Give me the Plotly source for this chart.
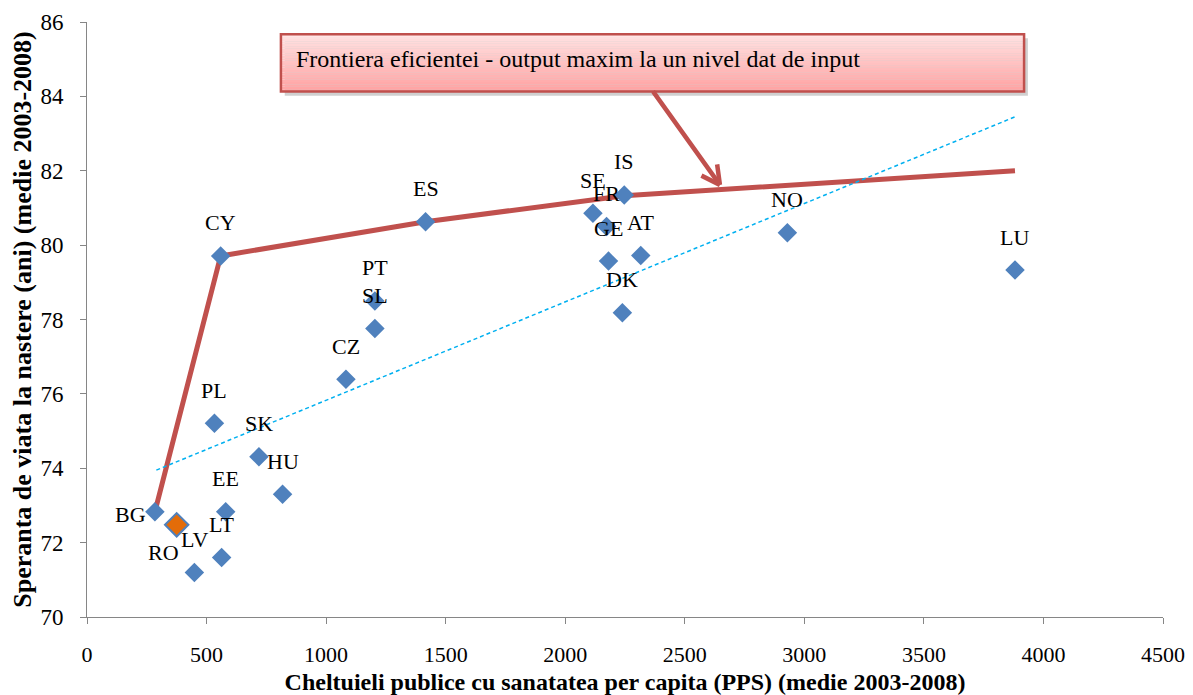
import plotly.graph_objects as go

# ---------------- data ----------------
countries = ["BG", "RO", "LV", "LT", "EE", "PL", "SK", "HU", "CZ", "SL", "PT",
             "CY", "ES", "SE", "FR", "GE", "DK", "IS", "AT", "NO", "LU"]
spending = [284, 375, 449, 563, 580, 533, 719, 818, 1083, 1204, 1204,
            559, 1416, 2116, 2173, 2181, 2239, 2247, 2316, 2929, 3881]
life_exp = [72.83, 72.48, 71.20, 71.60, 72.83, 75.21, 74.31, 73.30, 76.39, 77.76, 78.50,
            79.71, 80.63, 80.86, 80.50, 79.57, 78.18, 81.35, 79.72, 80.33, 79.33]
highlight = "RO"

frontier_x = [284, 559, 1416, 2247, 3881]
frontier_y = [72.83, 79.71, 80.63, 81.33, 82.00]

trend_x = [290, 3881]
trend_y = [73.95, 83.45]

x_ticks = [0, 500, 1000, 1500, 2000, 2500, 3000, 3500, 4000, 4500]
y_ticks = [70, 72, 74, 76, 78, 80, 82, 84, 86]

callout_text = "Frontiera eficientei - output maxim la un nivel dat de input"
x_title = "Cheltuieli publice cu sanatatea per capita (PPS) (medie 2003-2008)"
y_title = "Speranta de viata la nastere (ani) (medie 2003-2008)"

# ---------------- style ----------------
FONT = "Liberation Serif"
BLUE = "#4F81BD"
RED = "#C0504D"
ORANGE = "#E36C09"
AXIS = "#868686"
label_offsets = {"BG": (-24, -3), "RO": (-13, -28)}  # pixel offsets (dx, dy up)
default_offset = (0, 33)

fig = go.Figure()

fig.add_trace(go.Scatter(x=frontier_x, y=frontier_y, mode="lines",
                         line=dict(color=RED, width=5), hoverinfo="skip"))
fig.add_trace(go.Scatter(x=trend_x, y=trend_y, mode="lines",
                         line=dict(color="#00B0F0", width=1.5, dash="4px,3px"),
                         hoverinfo="skip"))

bx = [x for c, x in zip(countries, spending) if c != highlight]
by = [y for c, y in zip(countries, life_exp) if c != highlight]
fig.add_trace(go.Scatter(x=bx, y=by, mode="markers",
                         marker=dict(symbol="diamond", size=15, color=BLUE,
                                     line=dict(width=0))))
hx = [x for c, x in zip(countries, spending) if c == highlight]
hy = [y for c, y in zip(countries, life_exp) if c == highlight]
fig.add_trace(go.Scatter(x=hx, y=hy, mode="markers",
                         marker=dict(symbol="diamond", size=18, color=ORANGE,
                                     line=dict(width=2, color=BLUE))))

# point labels
for c, x, y in zip(countries, spending, life_exp):
    dx, dy = label_offsets.get(c, default_offset)
    fig.add_annotation(x=x, y=y, text=c, showarrow=False, xshift=dx, yshift=dy,
                       xanchor="center", yanchor="middle",
                       font=dict(family=FONT, size=22, color="black"))

# callout box (gradient via stacked strips), in data coordinates
box_x0, box_x1 = 811, 3919
box_y0, box_y1 = 84.13, 85.67
shapes = []
shapes.append(dict(type="rect", xref="x", yref="y", x0=box_x0 + 16, x1=box_x1 + 16,
                   y0=box_y0 - 0.11, y1=box_y1 - 0.11, line=dict(width=0),
                   fillcolor="rgba(120,120,120,0.35)", layer="above"))
n = 24
top = (255, 226, 226)
bot = (255, 162, 162)
for i in range(n):
    t = i / (n - 1)
    col = tuple(int(round(top[k] + (bot[k] - top[k]) * t)) for k in range(3))
    ya = box_y1 - (box_y1 - box_y0) * i / n
    yb = box_y1 - (box_y1 - box_y0) * (i + 1) / n
    shapes.append(dict(type="rect", xref="x", yref="y", x0=box_x0, x1=box_x1,
                       y0=yb, y1=ya, line=dict(width=0),
                       fillcolor="rgb(%d,%d,%d)" % col, layer="above"))
shapes.append(dict(type="rect", xref="x", yref="y", x0=box_x0, x1=box_x1,
                   y0=box_y0, y1=box_y1, line=dict(color=RED, width=2.5),
                   fillcolor="rgba(0,0,0,0)", layer="above"))
fig.update_layout(shapes=shapes)

fig.add_annotation(x=box_x0, y=(box_y0 + box_y1) / 2, xref="x", yref="y",
                   text=callout_text, showarrow=False, xanchor="left", yanchor="middle",
                   xshift=13, yshift=4,
                   font=dict(family=FONT, size=24, color="black"))

# arrow (shaft + open head) from box to frontier
tip_x, tip_y = 2647, 81.62
for ax, ay in [(-68, -95), (-20, -10), (-3, -22)]:
    fig.add_annotation(x=tip_x, y=tip_y, ax=ax, ay=ay, axref="pixel", ayref="pixel",
                       text="", showarrow=True, arrowhead=0, arrowwidth=4.5,
                       arrowcolor=RED, standoff=0, startstandoff=0)

# page body has an 8px margin, so the figure is sized/margined to compensate
fig.update_layout(
    width=1185, height=687,
    margin=dict(l=79, r=30, t=14, b=78, autoexpand=False),
    paper_bgcolor="white", plot_bgcolor="white",
    showlegend=False,
    font=dict(family=FONT, color="black"),
    xaxis=dict(range=[0, 4500], tickvals=x_ticks, showgrid=False, zeroline=False,
               showline=True, linecolor=AXIS, linewidth=1, automargin=False,
               ticks="outside", ticklen=6, tickcolor=AXIS,
               tickfont=dict(family=FONT, size=22, color="black"),
               ticklabelstandoff=12,
               title=dict(text="<b>%s</b>" % x_title, standoff=10,
                          font=dict(family=FONT, size=24, color="black"))),
    yaxis=dict(range=[70, 86], tickvals=y_ticks, showgrid=False, zeroline=False,
               showline=True, linecolor=AXIS, linewidth=1, automargin=False,
               ticks="outside", ticklen=6, tickcolor=AXIS,
               tickfont=dict(family=FONT, size=23, color="black"),
               ticklabelstandoff=12,
               title=dict(text="<b>%s</b>" % y_title, standoff=10,
                          font=dict(family=FONT, size=26, color="black"))),
)

fig.write_html("out.html")
